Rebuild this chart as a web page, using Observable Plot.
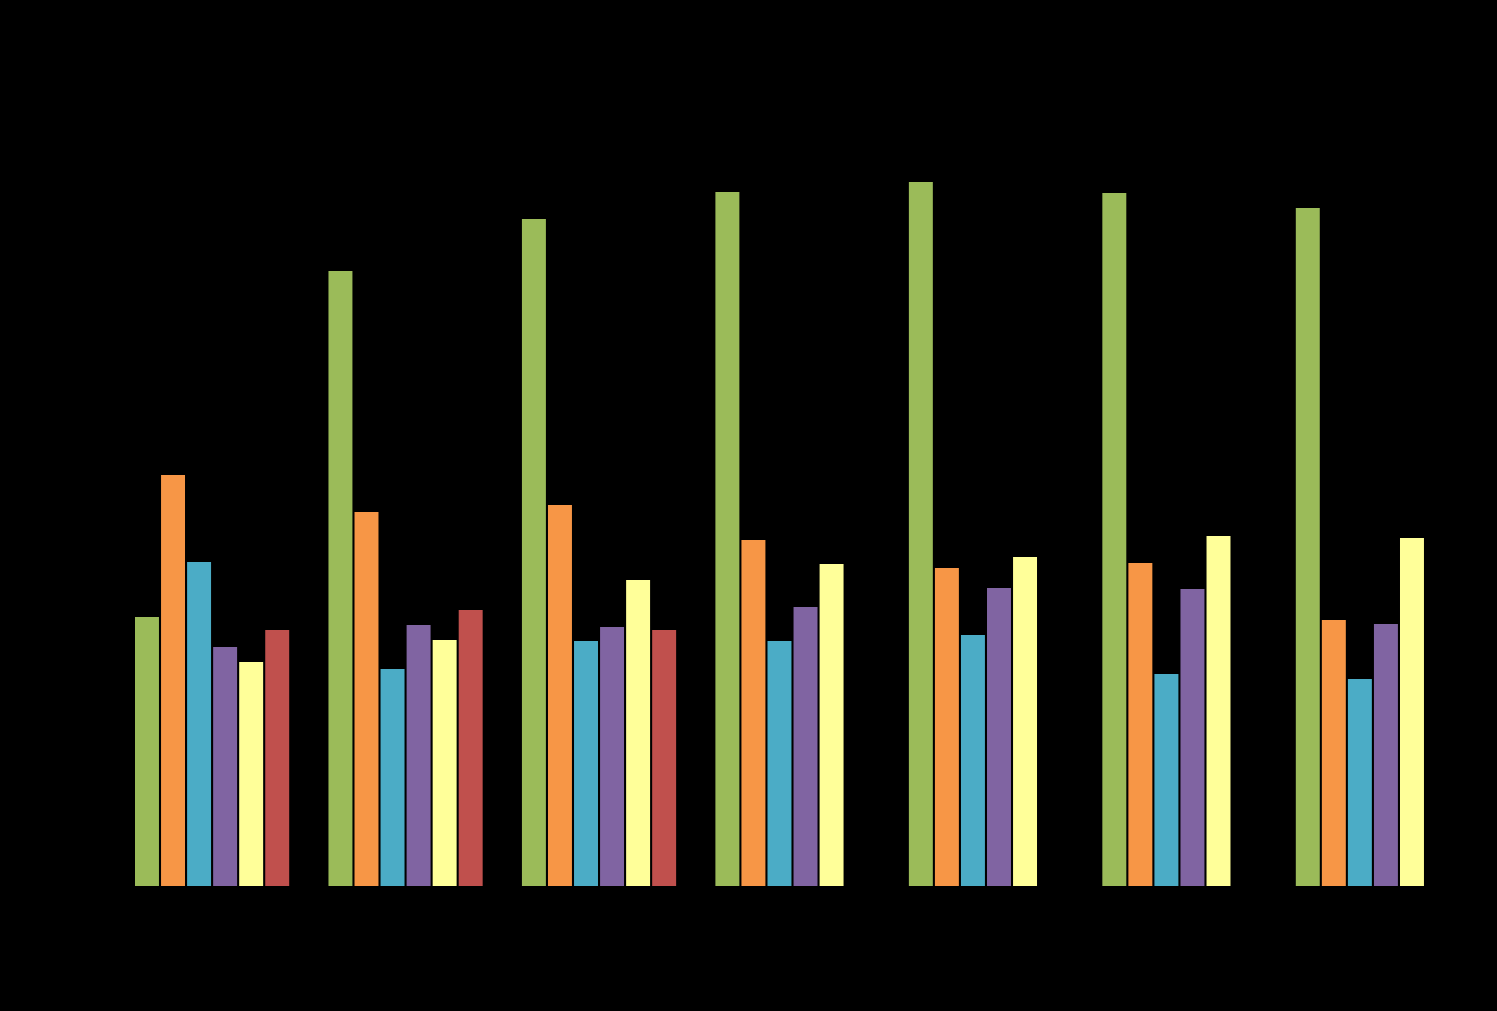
<!DOCTYPE html>
<html>
<head>
<meta charset="utf-8">
<script src="https://cdn.jsdelivr.net/npm/d3@7"></script>
<script src="https://cdn.jsdelivr.net/npm/@observablehq/plot@0.6"></script>
<style>
  html, body { margin: 0; padding: 0; background: #000; }
  #chart svg { display: block; }
</style>
</head>
<body>
<div id="chart"></div>
<script>
const groups = ["Group 1", "Group 2", "Group 3", "Group 4", "Group 5", "Group 6", "Group 7"];
const seriesNames = ["Series 1", "Series 2", "Series 3", "Series 4", "Series 5", "Series 6"];
const seriesColors = ["#9BBB59", "#F79646", "#4BACC6", "#8064A2", "#FFFF99", "#C0504D"];
const series1 = [269, 615, 667, 694, 704, 693, 678];
const series2 = [411, 374, 381, 346, 318, 323, 266];
const series3 = [324, 217, 245, 245, 251, 212, 207];
const series4 = [239, 261, 259, 279, 298, 297, 262];
const series5 = [224, 246, 306, 322, 329, 350, 348];
const series6 = [256, 276, 256, null, null, null, null];

const allSeries = [series1, series2, series3, series4, series5, series6];
const data = [];
groups.forEach((g, gi) => {
  allSeries.forEach((vals, si) => {
    if (vals[gi] != null) data.push({group: g, series: seriesNames[si], value: vals[gi]});
  });
});

const chart = Plot.plot({
  width: 1497,
  height: 1011,
  marginLeft: 135,
  marginRight: 47,
  marginTop: 166,
  marginBottom: 125,
  style: {background: "#000"},
  fx: {domain: groups, paddingInner: 0.203, paddingOuter: 0, round: false, axis: null, label: null},
  x: {domain: seriesNames, paddingInner: 0.08, paddingOuter: 0, round: false, axis: null},
  y: {domain: [0, 720], axis: null},
  color: {domain: seriesNames, range: seriesColors},
  marks: [
    Plot.barY(data, {fx: "group", x: "series", y: "value", fill: "series"})
  ]
});
document.getElementById("chart").appendChild(chart);
</script>
</body>
</html>
